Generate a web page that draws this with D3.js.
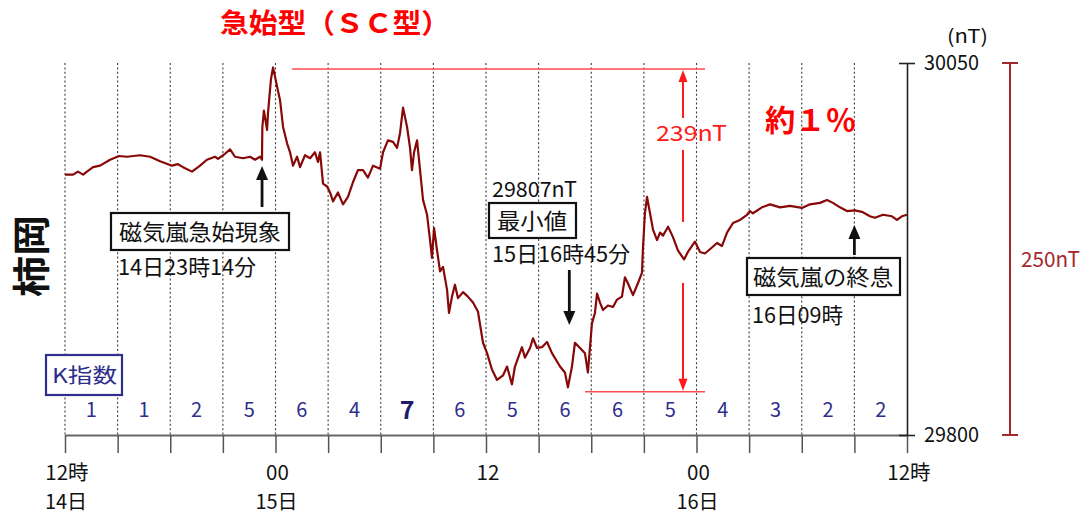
<!DOCTYPE html>
<html><head><meta charset="utf-8">
<script src="https://cdn.jsdelivr.net/npm/d3@7"></script>
<style>
body{margin:0;background:#fff}
svg{display:block}
text{font-family:"Noto Sans CJK JP","Noto Sans",sans-serif}
</style>
</head><body><svg id="c" width="1083" height="515"></svg>
<script>
// ---- data (hours from 14日12時, total field in nT) ----
const hours = [0,0.46,0.74,1.03,1.25,1.60,2.00,2.57,3.08,3.53,4.28,4.85,5.42,6.10,6.44,6.73,7.24,7.70,8.09,8.55,8.72,9.12,9.41,9.69,10.15,10.55,10.83,11.12,11.23,
11.25,11.34,11.52,11.57,11.74,11.86,11.97,12.09,12.26,12.43,12.66,12.83,13.00,13.23,13.40,13.68,13.97,14.25,14.42,14.54,14.71,14.94,15.11,15.28,
15.56,15.85,16.13,16.42,16.70,16.99,17.27,17.56,17.96,18.13,18.41,18.70,18.93,19.10,19.27,19.50,19.67,19.78,19.90,20.07,20.24,20.41,20.64,20.81,20.92,21.04,21.21,21.38,21.55,21.78,21.89,22.06,22.23,22.40,22.69,22.97,23.26,23.54,23.83,24.06,24.34,24.63,24.97,25.20,25.48,25.65,26.05,26.22,26.51,26.68,26.91,27.19,27.48,27.76,28.22,28.50,28.67,28.90,29.07,29.36,29.64,29.81,
30.04,30.21,30.33,30.50,30.67,30.95,31.24,31.47,31.75,31.92,32.09,32.38,32.66,32.89,32.95,33.06,33.18,33.35,33.52,33.75,33.92,34.09,34.38,34.66,34.94,35.29,35.51,35.91,36.20,36.48,36.88,37.17,37.45,37.74,38.08,38.48,38.88,39.05,39.22,39.73,40.19,40.76,41.33,42.01,42.47,43.04,43.44,43.78,44.18,44.58,45.03,45.43,45.89,46.17,46.63,47.14,47.43,47.71,48.00];
const nT = [29975,29975,29977,29975,29977,29980,29981,29985,29987.5,29987,29988,29987,29984,29981,29982,29980,29977,29981,29985,29987,29985.5,29989,29992,29987,29986,29987,29985,29987,29985,
30007,30018,30005,30016,30039,30047,30041,30034,30025,30007,29996,29990,29981,29987,29980,29988,29986,29990,29983.5,29990,29969,29967,29963,29957,
29963,29955,29960,29970,29978,29978,29973,29981,29979,29990,29998,29997,29993,30003,30020,30007,29993,29978,29990,29998,29978,29958,29948,29931,29919,29939,29924,29910,29913,29897.5,29882,29893,29901,29892,29896,29893,29889,29883,29862,29855,29844,29837,29840,29846,29834,29846,29859,29852,29858.5,29865,29858.5,29859,29862.5,29855,29846,29842,29832,29846,29862,29858.5,29855,29842,
29875,29882,29895,29889,29884,29887,29886,29891,29893,29906,29902,29894,29902,29909,29926,29949,29960,29949,29938,29931,29936,29934,29940,29933,29924,29918,29923,29930,29923,29922,29926,29929,29927,29936,29942.5,29944.5,29948,29950.5,29949,29953,29955,29953,29954,29952.6,29955,29956,29958,29956,29953,29950.5,29951,29950,29947,29946,29948,29947,29944.5,29947,29948];
const kIndex = [1,1,2,5,6,4,7,6,5,6,6,5,4,3,2,2];
const gridHours = d3.range(0, 48, 3);
const tickHours = d3.range(0, 49, 3);
const xLabelHours = [0, 12, 24, 36, 48];
const xLabelTime = ["12時", "00", "12", "00", "12時"];
const xLabelDay = ["14日", "15日", "", "16日", ""];
const yTicks = [29800, 30050];
const scaleBar = [29800, 30050];
const scHour = 11.233, minHour = 28.75, endHour = 45;
const peakValue = 30046, lowLineValue = 29829;

const svg = d3.select("#c");
const x = d3.scaleLinear().domain([0, 48]).range([65, 907]);
const y = d3.scaleLinear().domain([29800, 30050]).range([435, 63]);
const FONT = '"Noto Sans CJK JP","Noto Sans",sans-serif';

// grid (dotted)
svg.append("g").selectAll("line").data(gridHours).join("line")
  .attr("x1", d => x(d)).attr("x2", d => x(d))
  .attr("y1", y(30050)).attr("y2", y(29800))
  .attr("stroke", "#3a3a3a").attr("stroke-width", 1.1).attr("stroke-dasharray", "2,2.4");

// bottom axis
const xAxis = svg.append("g").attr("transform", `translate(0,${y(29800)})`)
  .call(d3.axisBottom(x).tickValues(tickHours).tickSizeInner(18).tickSizeOuter(0).tickFormat(""));
xAxis.select(".domain").attr("stroke", "#666").attr("stroke-width", 2);
xAxis.selectAll(".tick line").attr("stroke", "#555").attr("stroke-width", 1.5);

// right axis
const yAxis = svg.append("g").attr("transform", `translate(${x(48)},0)`)
  .call(d3.axisRight(y).tickValues(yTicks).tickSizeInner(8).tickSizeOuter(0).tickPadding(10).tickFormat(d3.format("d")));
yAxis.select(".domain").attr("stroke", "#222").attr("stroke-width", 1.6);
yAxis.selectAll(".tick line").attr("x1", -8).attr("stroke", "#222").attr("stroke-width", 1.6);
yAxis.selectAll(".tick text").attr("font-family", FONT).attr("font-size", 21).attr("fill", "#111")
  .attr("textLength", 55).attr("lengthAdjust", "spacingAndGlyphs").attr("x", 17);
svg.append("text").attr("x", 947).attr("y", 43).attr("font-size", 19).attr("fill", "#111")
  .attr("textLength", 41).attr("lengthAdjust", "spacingAndGlyphs").text("(nT)");

// scale bar 250nT
const sb = svg.append("g").attr("stroke", "#a3282c").attr("stroke-width", 2);
sb.append("line").attr("x1", 1010).attr("x2", 1010).attr("y1", y(scaleBar[1])).attr("y2", y(scaleBar[0]));
scaleBar.forEach(v => sb.append("line").attr("x1", 1002).attr("x2", 1018).attr("y1", y(v)).attr("y2", y(v)));
svg.append("text").attr("x", 1021).attr("y", 267).attr("font-size", 21).attr("fill", "#a3282c")
  .attr("textLength", 59).attr("lengthAdjust", "spacingAndGlyphs").text(`${scaleBar[1]-scaleBar[0]}nT`);

// x labels
svg.append("g").selectAll("text").data(xLabelHours).join("text")
  .attr("x", d => x(d) + 2).attr("y", 480).attr("text-anchor", "middle")
  .attr("font-size", 20.5).attr("fill", "#111").text((d, i) => xLabelTime[i]);
svg.append("g").selectAll("text").data(xLabelHours).join("text")
  .attr("x", d => x(d) + 1).attr("y", 509).attr("text-anchor", "middle")
  .attr("font-size", 20).attr("fill", "#111").text((d, i) => xLabelDay[i]);

// red range annotation
const red = "#ff1a1a";
svg.append("line").attr("x1", 292).attr("x2", 705).attr("y1", y(peakValue)).attr("y2", y(peakValue))
  .attr("stroke", "#ff4d4d").attr("stroke-width", 1.5);
svg.append("line").attr("x1", 585).attr("x2", 705).attr("y1", y(lowLineValue)).attr("y2", y(lowLineValue))
  .attr("stroke", "#ff4d4d").attr("stroke-width", 1.5);
const ax = 683;
[[80, 118], [150, 222], [283, 380]].forEach(s =>
  svg.append("line").attr("x1", ax).attr("x2", ax).attr("y1", s[0]).attr("y2", s[1]).attr("stroke", red).attr("stroke-width", 2));
svg.append("path").attr("d", `M${ax},${y(peakValue)+1}L${ax-4.5},${y(peakValue)+13}L${ax+4.5},${y(peakValue)+13}Z`).attr("fill", red);
svg.append("path").attr("d", `M${ax},${y(lowLineValue)-1}L${ax-4.5},${y(lowLineValue)-13}L${ax+4.5},${y(lowLineValue)-13}Z`).attr("fill", red);
svg.append("text").attr("x", 656).attr("y", 141).attr("font-size", 21).attr("fill", red)
  .attr("textLength", 71).attr("lengthAdjust", "spacingAndGlyphs").text(`${peakValue - 29807}nT`);

// data line
svg.append("path").datum(hours.map((h, i) => [h, nT[i]]))
  .attr("fill", "none").attr("stroke", "#880808").attr("stroke-width", 2.2).attr("stroke-linejoin", "round")
  .attr("d", d3.line().x(d => x(d[0])).y(d => y(d[1])));

// titles
svg.append("text").attr("x", 220).attr("y", 33).attr("font-size", 27).attr("font-weight", 700).attr("fill", "#ff0000")
  .attr("textLength", 230).attr("lengthAdjust", "spacingAndGlyphs").text("急始型（ＳＣ型）");
svg.append("text").attr("x", 765).attr("y", 131).attr("font-size", 30).attr("font-weight", 700).attr("fill", "#ff0000")
  .attr("textLength", 91).attr("lengthAdjust", "spacingAndGlyphs").text("約１％");
svg.append("text").attr("transform", "translate(45,256) rotate(-90)").attr("text-anchor", "middle")
  .attr("font-size", 38).attr("font-weight", 700).attr("fill", "#111")
  .attr("textLength", 82).attr("lengthAdjust", "spacingAndGlyphs").text("柿岡");

// black arrows
function arrow(xp, yTail, yTip) {
  const dir = yTip < yTail ? 1 : -1;
  svg.append("line").attr("x1", xp).attr("x2", xp).attr("y1", yTail).attr("y2", yTip + dir * 10)
    .attr("stroke", "#111").attr("stroke-width", 2.8);
  svg.append("path").attr("d", `M${xp},${yTip}L${xp-6},${yTip+dir*14}L${xp+6},${yTip+dir*14}Z`).attr("fill", "#111");
}
arrow(x(scHour), 207, 166);
arrow(x(minHour), 270, 325);
arrow(x(endHour), 255, 225);

// boxes with labels
function box(x0, y0, x1, y1, color, sw) {
  svg.append("rect").attr("x", x0).attr("y", y0).attr("width", x1 - x0).attr("height", y1 - y0)
    .attr("fill", "#fff").attr("stroke", color).attr("stroke-width", sw);
}
function label(txt, x0, yb, size, len, color) {
  svg.append("text").attr("x", x0).attr("y", yb).attr("font-size", size).attr("fill", color || "#111")
    .attr("textLength", len).attr("lengthAdjust", "spacingAndGlyphs").text(txt);
}
box(111, 213, 289, 250, "#111", 2.2);
label("磁気嵐急始現象", 119, 240, 22, 162);
label("14日23時14分", 118, 275, 22, 138);

label("29807nT", 492, 197, 21, 85);
box(489, 203, 576, 238, "#111", 2.2);
label("最小値", 497, 229, 22, 70);
label("15日16時45分", 492, 262, 22, 138);

box(747, 258, 900, 295, "#111", 2.2);
label("磁気嵐の終息", 753, 285, 22, 140);
label("16日09時", 752, 323, 22, 91);

// K index
const navy = "#2e2e8c";
box(46, 355, 122, 395, navy, 2.2);
label("K指数", 52, 383, 20, 65, navy);
svg.append("g").selectAll("text").data(kIndex).join("text")
  .attr("x", (d, i) => x(i * 3 + 1.5)).attr("y", d => d === 7 ? 419 : 417).attr("text-anchor", "middle")
  .attr("font-size", d => d === 7 ? 25 : 20).attr("font-weight", d => d === 7 ? 700 : 400)
  .attr("fill", d => d === 7 ? "#1c1c6e" : navy).text(d => d);
</script>
</body></html>
